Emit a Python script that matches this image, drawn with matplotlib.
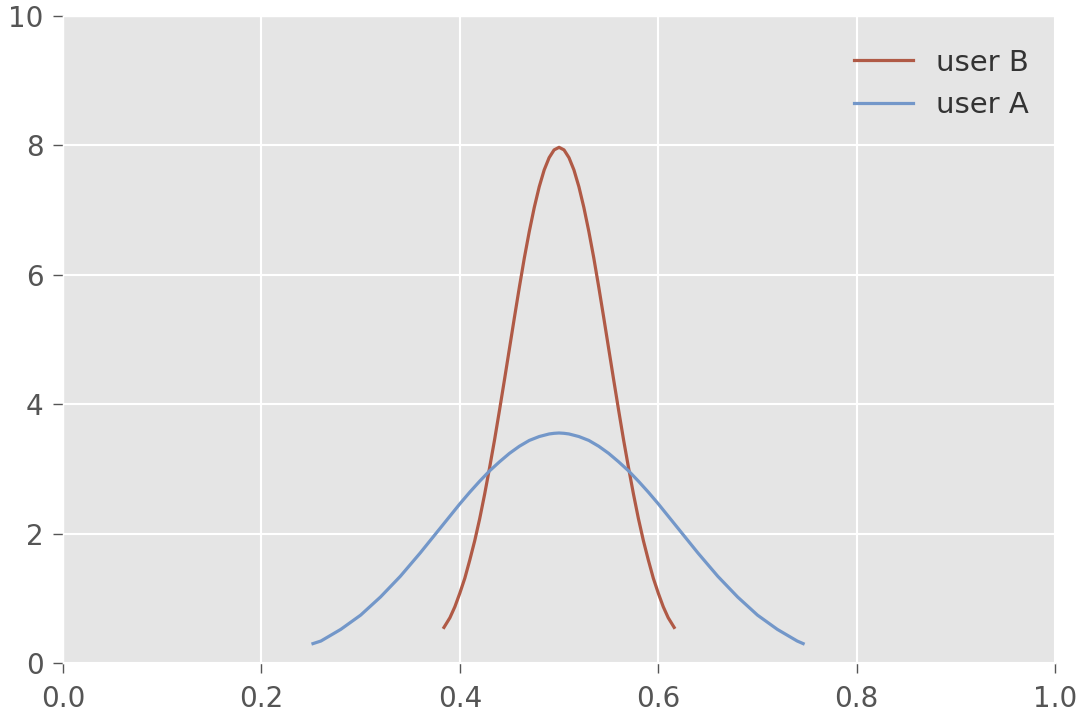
import matplotlib
matplotlib.use("Agg")
import matplotlib.pyplot as plt

plt.style.use("ggplot")

# user B curve
xb = [0.384, 0.390, 0.395, 0.400, 0.405, 0.410, 0.415, 0.420, 0.425, 0.430, 0.435,
      0.440, 0.445, 0.450, 0.455, 0.460, 0.465, 0.470, 0.475, 0.480, 0.485, 0.490,
      0.495, 0.500, 0.505, 0.510, 0.515, 0.520, 0.525, 0.530, 0.535, 0.540, 0.545,
      0.550, 0.555, 0.560, 0.565, 0.570, 0.575, 0.580, 0.585, 0.590, 0.595, 0.600,
      0.605, 0.610, 0.616]
yb = [0.55, 0.70, 0.87, 1.08, 1.31, 1.59, 1.89, 2.23, 2.61, 3.02, 3.45,
      3.91, 4.38, 4.86, 5.34, 5.81, 6.26, 6.67, 7.04, 7.36, 7.62, 7.81,
      7.93, 7.97, 7.93, 7.81, 7.62, 7.36, 7.04, 6.67, 6.26, 5.81, 5.34,
      4.86, 4.38, 3.91, 3.45, 3.02, 2.61, 2.23, 1.89, 1.59, 1.31, 1.08,
      0.87, 0.70, 0.55]

# user A curve
xa = [0.252, 0.260, 0.270, 0.280, 0.290, 0.300, 0.310, 0.320, 0.330, 0.340, 0.350,
      0.360, 0.370, 0.380, 0.390, 0.400, 0.410, 0.420, 0.430, 0.440, 0.450, 0.460,
      0.470, 0.480, 0.490, 0.495, 0.500, 0.505, 0.510, 0.520, 0.530, 0.540, 0.550,
      0.560, 0.570, 0.580, 0.590, 0.600, 0.610, 0.620, 0.630, 0.640, 0.650, 0.660,
      0.670, 0.680, 0.690, 0.700, 0.710, 0.720, 0.730, 0.740, 0.746]
ya = [0.30, 0.34, 0.43, 0.52, 0.63, 0.74, 0.88, 1.02, 1.18, 1.34, 1.52,
      1.70, 1.89, 2.08, 2.27, 2.46, 2.64, 2.81, 2.97, 3.11, 3.24, 3.35,
      3.44, 3.50, 3.54, 3.55, 3.555, 3.55, 3.54, 3.50, 3.44, 3.35, 3.24,
      3.11, 2.97, 2.81, 2.64, 2.46, 2.27, 2.08, 1.89, 1.70, 1.52, 1.34,
      1.18, 1.02, 0.88, 0.74, 0.63, 0.52, 0.43, 0.34, 0.30]

fig = plt.figure(figsize=(10.8, 7.16), dpi=100)
ax = fig.add_axes([0.0583, 0.074, 0.9187, 0.9037])

ax.plot(xb, yb, color="#b05a46", lw=2.3, label="user B")
ax.plot(xa, ya, color="#7397c9", lw=2.3, label="user A")

ax.set_xlim(0, 1)
ax.set_ylim(0, 10)
ax.set_xticks([0.0, 0.2, 0.4, 0.6, 0.8, 1.0])
ax.set_yticks([0, 2, 4, 6, 8, 10])
ax.tick_params(labelsize=20, length=7, width=1.0, colors="#555555")
ax.tick_params(axis="x", pad=9)
ax.tick_params(axis="y", pad=7)
ax.grid(True, color="white", lw=1.5)
leg = ax.legend(loc="upper right", frameon=False, fontsize=21,
                bbox_to_anchor=(1.0, 0.99))
for t in leg.get_texts():
    t.set_color("#333333")

fig.savefig("out.png", dpi=100)
